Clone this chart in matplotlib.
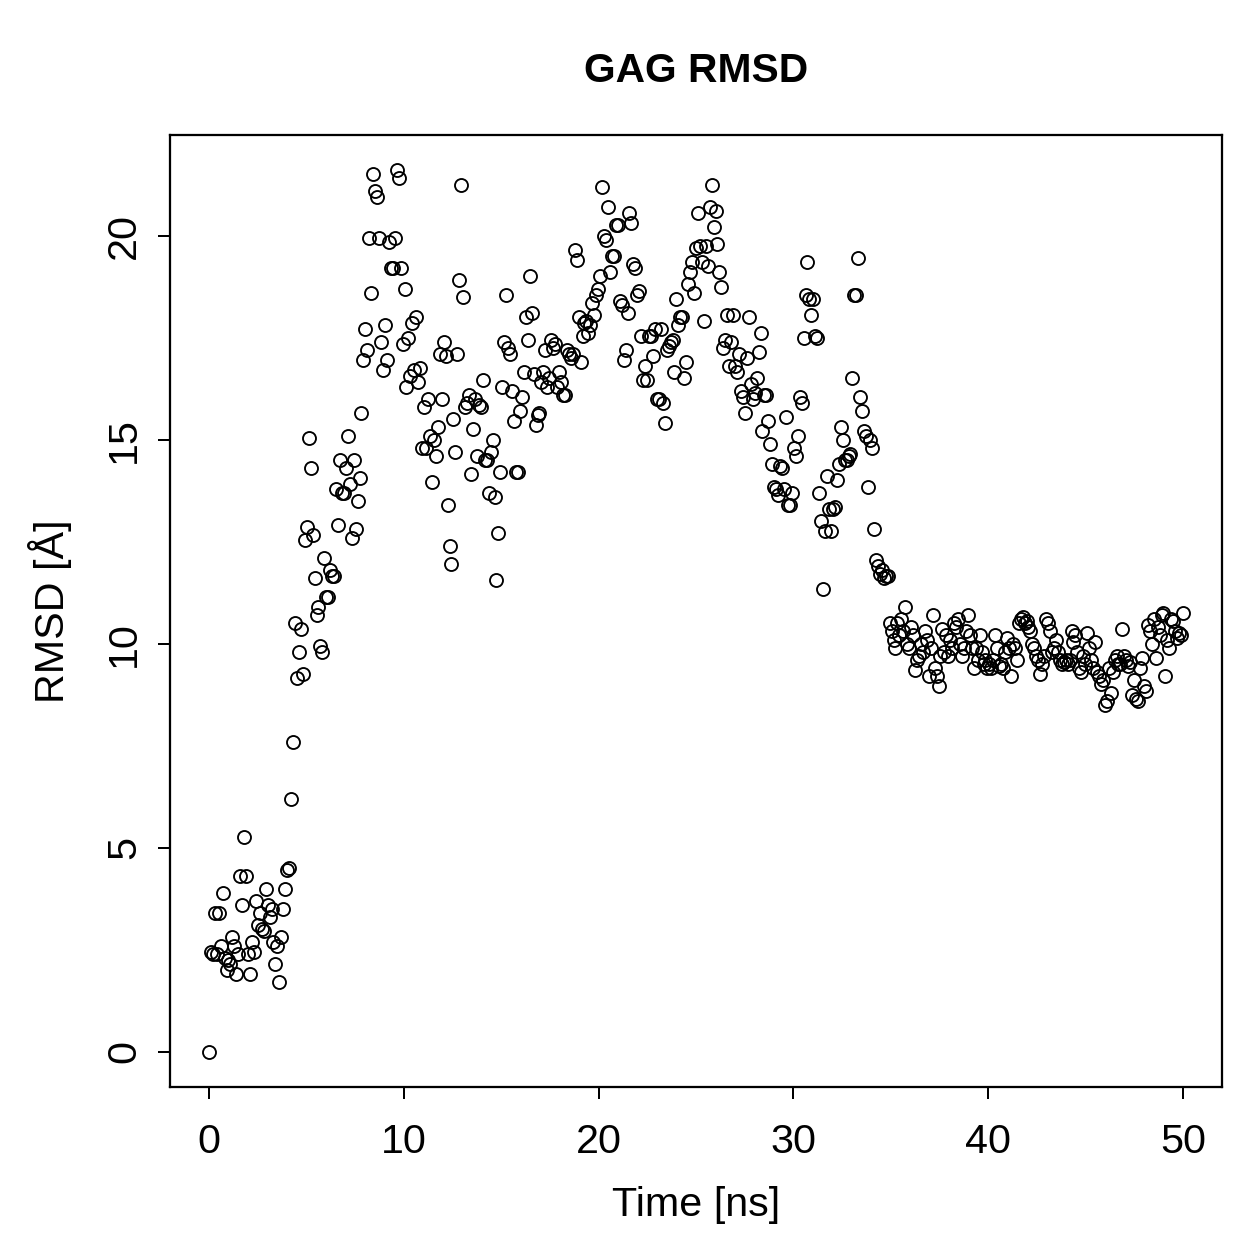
import numpy as np
import matplotlib.pyplot as plt

plt.rcParams['font.family'] = ['Liberation Sans', 'DejaVu Sans']

# RMSD of GAG, one sample every 0.1 ns
rmsd_0_10 = [0.0, 2.45, 2.4, 3.4, 2.4, 3.4, 2.6, 3.9, 2.3, 2.0,
             2.25, 2.15, 2.8, 2.6, 1.9, 2.4, 4.3, 3.6, 5.27, 4.3,
             2.4, 1.9, 2.7, 2.45, 3.7, 3.1, 3.4, 3.0, 2.95, 4.0,
             3.6, 3.3, 3.5, 2.7, 2.15, 2.6, 1.7, 2.8, 3.5, 4.0,
             4.45, 4.5, 6.2, 7.6, 10.5, 9.15, 9.8, 10.35, 9.25, 12.55,
             12.85, 15.05, 14.3, 12.65, 11.6, 10.7, 10.9, 9.95, 9.8, 12.1,
             11.15, 11.15, 11.8, 11.65, 11.65, 13.8, 12.9, 14.5, 13.7, 13.7,
             14.3, 15.1, 13.9, 12.6, 14.5, 12.8, 13.5, 14.05, 15.65, 16.95,
             17.7, 17.2, 19.95, 18.6, 21.5, 21.1, 20.95, 19.95, 17.4, 16.7,
             17.8, 16.95, 19.85, 19.2, 19.2, 19.95, 21.6, 21.4, 19.2, 17.35]
rmsd_10_20 = [18.7, 16.3, 17.5, 16.55, 17.85, 16.7, 18.0, 16.4, 16.75, 14.8,
              15.8, 14.8, 16.0, 15.1, 13.95, 15.0, 14.6, 15.3, 17.1, 16.0,
              17.4, 17.05, 13.4, 12.4, 11.95, 15.5, 14.7, 17.1, 18.9, 21.25,
              18.5, 15.8, 15.9, 16.1, 14.15, 15.25, 16.0, 14.6, 15.85, 15.8,
              16.45, 14.5, 14.5, 13.7, 14.7, 15.0, 13.6, 11.55, 12.7, 14.2,
              16.3, 17.4, 18.55, 17.25, 17.1, 16.2, 15.45, 14.2, 14.2, 15.7,
              16.05, 16.65, 18.0, 17.45, 19.0, 18.1, 16.6, 15.35, 15.6, 15.65,
              16.4, 16.65, 17.2, 16.3, 16.5, 17.45, 17.25, 17.35, 16.3, 16.65,
              16.4, 16.1, 16.1, 17.2, 17.1, 17.0, 17.1, 19.65, 19.4, 18.0,
              16.9, 17.55, 17.85, 17.9, 17.6, 17.8, 18.35, 18.05, 18.55, 18.7]
rmsd_20_30 = [19.0, 21.2, 20.0, 19.9, 20.7, 19.1, 19.5, 19.5, 20.25, 20.25,
              18.4, 18.3, 16.95, 17.2, 18.1, 20.55, 20.3, 19.3, 19.2, 18.55,
              18.65, 17.55, 16.45, 16.8, 16.45, 17.55, 17.55, 17.05, 17.7, 16.0,
              16.0, 17.7, 15.9, 15.4, 17.2, 17.3, 17.4, 17.45, 16.65, 18.45,
              17.8, 18.0, 18.0, 16.5, 16.9, 18.8, 19.1, 19.35, 18.6, 19.7,
              20.55, 19.75, 19.35, 17.9, 19.75, 19.25, 20.7, 21.25, 20.2, 20.6,
              19.8, 19.1, 18.75, 17.25, 17.45, 18.05, 16.8, 17.4, 18.05, 16.8,
              16.65, 17.1, 16.2, 16.05, 15.65, 17.0, 18.0, 16.35, 16.0, 16.15,
              16.5, 17.15, 17.6, 15.2, 16.1, 16.1, 15.45, 14.9, 14.4, 13.85,
              13.8, 13.65, 14.35, 14.3, 13.8, 15.55, 13.4, 13.4, 13.7, 14.8]
rmsd_30_40 = [14.6, 15.1, 16.05, 15.9, 17.5, 18.55, 19.35, 18.45, 18.05, 18.45,
              17.55, 17.5, 13.7, 13.0, 11.35, 12.75, 14.1, 13.3, 12.75, 13.3,
              13.35, 14.0, 14.4, 15.3, 15.0, 14.5, 14.5, 14.6, 14.65, 16.5,
              18.55, 18.55, 19.45, 16.05, 15.7, 15.2, 15.1, 13.85, 15.0, 14.8,
              12.8, 12.05, 11.9, 11.7, 11.8, 11.6, 11.65, 11.65, 10.5, 10.3,
              10.1, 9.9, 10.5, 10.2, 10.6, 10.3, 10.9, 10.0, 9.9, 10.4,
              10.2, 9.35, 9.6, 9.7, 10.0, 9.8, 10.3, 10.1, 9.2, 9.9,
              10.7, 9.4, 9.2, 8.95, 9.7, 10.35, 9.8, 10.2, 9.7, 10.1,
              9.9, 10.5, 10.4, 10.6, 10.0, 9.7, 9.9, 10.3, 10.7, 10.2,
              9.9, 9.4, 9.9, 9.6, 10.2, 9.8, 9.5, 9.6, 9.4, 9.5]
rmsd_40_50 = [9.4, 9.6, 10.2, 9.9, 9.45, 9.5, 9.4, 9.8, 10.15, 9.9,
              9.2, 10.0, 9.9, 9.6, 10.5, 10.6, 10.65, 10.5, 10.55, 10.4,
              10.3, 10.0, 9.9, 9.7, 9.6, 9.25, 9.5, 9.7, 10.6, 10.5,
              10.3, 9.8, 9.9, 10.1, 9.8, 9.6, 9.5, 9.55, 9.6, 9.5,
              9.6, 10.3, 10.05, 10.2, 9.8, 9.4, 9.3, 9.7, 9.5, 10.25,
              9.9, 9.6, 9.4, 10.05, 9.3, 9.2, 9.0, 9.1, 8.5, 8.6,
              9.4, 8.8, 9.3, 9.6, 9.7, 9.5, 9.5, 10.35, 9.7, 9.6,
              9.45, 9.55, 8.75, 9.1, 8.65, 8.6, 9.4, 9.65, 8.95, 8.85,
              10.45, 10.3, 10.0, 10.6, 9.65, 10.4, 10.2, 10.7, 10.75, 9.2,
              10.1, 9.9, 10.6, 10.55, 10.3, 10.15, 10.25, 10.2, 10.75]

rmsd = np.array(rmsd_0_10 + rmsd_10_20 + rmsd_20_30 + rmsd_30_40 + rmsd_40_50)
time = np.linspace(0, 50, len(rmsd))

fig = plt.figure(figsize=(1259 / 180, 1259 / 180), dpi=180)
ax = fig.add_axes([0.135, 0.1366, 0.8356, 0.7562])

ax.plot(time, rmsd, 'o', mfc='none', mec='black', ms=5.2, mew=0.75)

xr = time.max() - time.min()
yr = rmsd.max() - rmsd.min()
ax.set_xlim(time.min() - 0.04 * xr, time.max() + 0.04 * xr)
ax.set_ylim(rmsd.min() - 0.04 * yr, rmsd.max() + 0.04 * yr)

ax.set_xticks([0, 10, 20, 30, 40, 50])
ax.set_yticks([0, 5, 10, 15, 20])
ax.tick_params(direction='out', length=4.8, width=0.8, labelsize=16.5)
ax.tick_params(axis='x', pad=9.5)
ax.tick_params(axis='y', pad=6)
for lab in ax.get_yticklabels():
    lab.set_rotation(90)
    lab.set_va('center')
for s in ax.spines.values():
    s.set_linewidth(0.9)

ax.set_xlabel('Time [ns]', fontsize=16.5, labelpad=10)
ax.set_ylabel('RMSD [Å]', fontsize=16.5, labelpad=13)
fig.text(0.553, 0.944, 'GAG RMSD', ha='center', va='center',
         fontsize=16.3, fontweight='bold')

plt.savefig('out.png', dpi=180)
